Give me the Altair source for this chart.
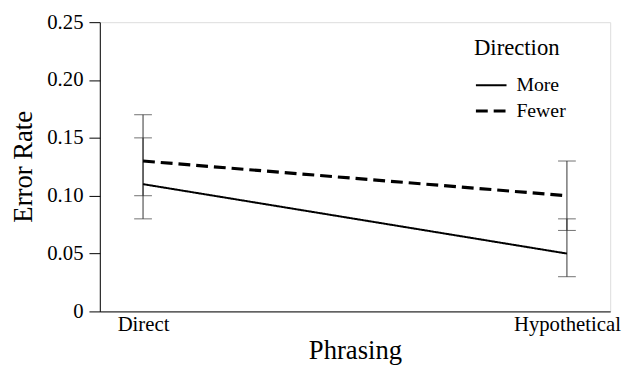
import altair as alt
import pandas as pd

phrasing = ["Direct", "Hypothetical"]
directions = ["More", "Fewer"]
more_mean = [0.11, 0.05]
more_lo = [0.08, 0.03]
more_hi = [0.15, 0.08]
fewer_mean = [0.13, 0.10]
fewer_lo = [0.10, 0.07]
fewer_hi = [0.17, 0.13]

rows = []
for i, p in enumerate(phrasing):
    rows.append(dict(Phrasing=p, Direction="More", mean=more_mean[i], lo=more_lo[i], hi=more_hi[i]))
    rows.append(dict(Phrasing=p, Direction="Fewer", mean=fewer_mean[i], lo=fewer_lo[i], hi=fewer_hi[i]))
df = pd.DataFrame(rows)

FONT = "Liberation Serif"

xaxis = alt.Axis(title="Phrasing", labelAngle=0, ticks=False, labelPadding=2, titlePadding=4)
yaxis = alt.Axis(title="Error Rate", values=[0, 0.05, 0.1, 0.15, 0.2, 0.25],
                 labelExpr="datum.value == 0 ? '0' : format(datum.value, '.2f')",
                 titleAngle=-90, titleX=-77, titleY=146, titleAlign="center",
                 titleBaseline="middle")
xscale = alt.Scale(type="point", padding=0.102)
yscale = alt.Scale(domain=[0, 0.25])
X = alt.X("Phrasing:N", sort=phrasing, scale=xscale, axis=xaxis)

lines = alt.Chart(df).mark_line(color="black").encode(
    x=X,
    y=alt.Y("mean:Q", scale=yscale, axis=yaxis),
    strokeDash=alt.StrokeDash("Direction:N", sort=directions,
                              scale=alt.Scale(domain=directions, range=[[1, 0], [12, 6]]),
                              legend=alt.Legend(title="Direction", orient="none", legendX=379,
                                                legendY=15, symbolType="stroke", symbolSize=961,
                                                symbolStrokeColor="black", symbolStrokeWidth=2.5,
                                                clipHeight=26, rowPadding=0, titlePadding=13,
                                                labelOffset=8)),
    strokeWidth=alt.StrokeWidth("Direction:N", sort=directions,
                                scale=alt.Scale(domain=directions, range=[2, 3.2]), legend=None),
)

bars = alt.Chart(df).mark_rule(color="#333", strokeWidth=1).encode(
    x=X,
    y=alt.Y("lo:Q", scale=yscale, axis=yaxis),
    y2="hi:Q",
)
caps_lo = alt.Chart(df).mark_tick(color="#333", thickness=1, size=18, orient="horizontal").encode(
    x=X, y=alt.Y("lo:Q", scale=yscale, axis=yaxis))
caps_hi = alt.Chart(df).mark_tick(color="#333", thickness=1, size=18, orient="horizontal").encode(
    x=X, y=alt.Y("hi:Q", scale=yscale, axis=yaxis))

chart = alt.layer(bars, caps_lo, caps_hi, lines).properties(
    width=517, height=293,
    autosize=alt.AutoSizeParams(type="none"),
    padding={"left": 93, "top": 12, "right": 13, "bottom": 58},
).configure_view(stroke=None).configure(font=FONT).configure_axis(
    grid=False, labelFont=FONT, titleFont=FONT, labelFontSize=21, titleFontSize=27,
    titleFontWeight="normal", domainColor="#000", tickColor="#000", labelColor="#000",
    titleColor="#000",
).configure_axisY(tickSize=11, labelPadding=6, titleFontSize=27).configure_legend(
    labelFont=FONT, titleFont=FONT, labelFontSize=20, titleFontSize=23,
    titleFontWeight="normal", labelColor="#000", titleColor="#000",
)

chart.save("out.html", embed_options={"renderer": "svg", "actions": False})
